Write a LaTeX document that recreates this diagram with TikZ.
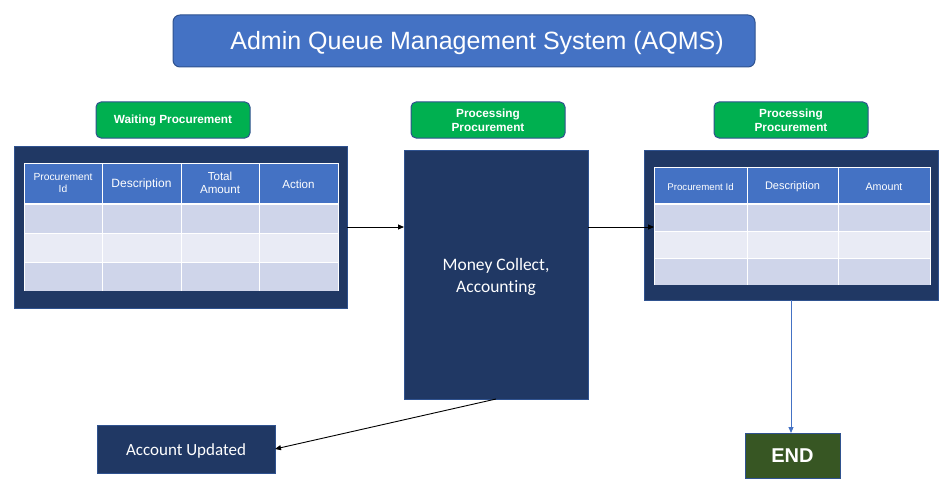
\documentclass[tikz,border=0pt]{standalone}
\usepackage{fontspec}
\setmainfont{Liberation Sans}
\newfontfamily\calibri[Ligatures=NoCommon]{Carlito}
\usetikzlibrary{arrows.meta}
\definecolor{navy}{HTML}{203864}
\definecolor{bordblue}{HTML}{2F528F}
\definecolor{hdrblue}{HTML}{4472C4}
\definecolor{rowA}{HTML}{CFD5EA}
\definecolor{rowB}{HTML}{E9EBF5}
\definecolor{grn}{HTML}{00B050}
\definecolor{endgrn}{HTML}{375623}
\tikzset{
  box/.style={rectangle, inner sep=0pt, outer sep=0pt, draw=bordblue, line width=1pt, text=white, align=center},
  navybox/.style={box, fill=navy},
  tag/.style={box, fill=grn, rounded corners=5pt, minimum width=154pt, minimum height=36pt, font=\fontsize{11.8}{14}\selectfont\bfseries},
  tabarea/.style={rectangle, inner sep=0pt, outer sep=0pt},
  hdr/.style={text=white, align=center},
  conn/.style={draw=black, line width=0.9pt, -{Triangle[length=6pt,width=5pt]}},
}
\begin{document}
\begin{tikzpicture}[x=1pt,y=-1pt]
\useasboundingbox (0,0) rectangle (944,492);

% title
\node[box, fill=hdrblue, rounded corners=7pt, minimum width=582pt, minimum height=52pt] (title) at (464,41) {};
\node[hdr, font=\fontsize{25}{30}\selectfont] (titletext) at (477,43) {Admin Queue Management System (AQMS)};

% tags
\node[tag] (tagwait) at (173,120) {Waiting Procurement};
\node[tag] (tagproc) at (488,120) {Processing\\Procurement};
\node[tag] (tagproc2) at (791,120) {Processing\\Procurement};

% left container and table
\node[navybox, minimum width=333pt, minimum height=162pt] (lcont) at (180.5,227) {};
\node[tabarea, minimum width=314pt, minimum height=128pt] (ltab) at (181,227) {};
\fill[hdrblue] (24,163) rectangle (338,204);
\fill[rowA] (24,204) rectangle (338,233);
\fill[rowB] (24,233) rectangle (338,262);
\fill[rowA] (24,262) rectangle (338,291);
\draw[white, line width=2pt] (24,204) -- (338,204);
\foreach \yy in {233,262} \draw[white, line width=1pt] (24,\yy) -- (338,\yy);
\foreach \xx in {24,102,181,259,338} \draw[white, line width=1pt] (\xx,163) -- (\xx,291);
\draw[white, line width=1pt] (24,163) -- (338,163);
\node[hdr, font=\fontsize{10.3}{12}\selectfont] (lh1) at (63,183) {Procurement\\Id};
\node[hdr, font=\fontsize{12}{14}\selectfont] (lh2) at (141.5,184) {Description};
\node[hdr, font=\fontsize{11.6}{13}\selectfont] (lh3) at (220,183) {Total\\Amount};
\node[hdr, font=\fontsize{11.6}{13}\selectfont] (lh4) at (298.5,184) {Action};

% middle box
\node[navybox, minimum width=184pt, minimum height=249pt] (mid) at (496,274.5) {};
\node[hdr, font=\calibri\fontsize{17.5}{22}\selectfont] (midtext) at (496,277) {Money Collect,\\Accounting};

% right container and table
\node[navybox, minimum width=294pt, minimum height=150pt] (rcont) at (791,225) {};
\node[tabarea, minimum width=276pt, minimum height=118pt] (rtab) at (792,227) {};
\fill[hdrblue] (654,167) rectangle (930,204);
\fill[rowA] (654,204) rectangle (930,231);
\fill[rowB] (654,231) rectangle (930,258);
\fill[rowA] (654,258) rectangle (930,285);
\draw[white, line width=2pt] (654,204) -- (930,204);
\foreach \yy in {231,258} \draw[white, line width=1pt] (654,\yy) -- (930,\yy);
\foreach \xx in {654,747,838,930} \draw[white, line width=1pt] (\xx,167) -- (\xx,285);
\draw[white, line width=1pt] (654,167) -- (930,167);
\node[hdr, font=\fontsize{9.7}{12}\selectfont] (rh1) at (700.5,187) {Procurement Id};
\node[hdr, font=\fontsize{11}{13}\selectfont] (rh2) at (792.5,187) {Description};
\node[hdr, font=\fontsize{10.7}{13}\selectfont] (rh3) at (884,187) {Amount};

% bottom boxes
\node[navybox, minimum width=178pt, minimum height=48pt] (acc) at (186,449) {};
\node[hdr, font=\calibri\fontsize{17}{20}\selectfont] (acctext) at (186,451) {Account Updated};
\node[box, fill=endgrn, minimum width=95pt, minimum height=45pt,
  font=\fontsize{20}{24}\selectfont\bfseries] (endn) at (792.5,455.5) {END};

% connectors
\draw[conn] (lcont.east) -- (lcont.east -| mid.west);
\draw[conn] (rtab.west -| mid.east) -- (rtab.west);
\draw[conn] (mid.south) -- (acc.east);
\draw[conn, draw=hdrblue, fill=hdrblue] (rcont.south) -- (rcont.south |- endn.north);
\end{tikzpicture}
\end{document}
